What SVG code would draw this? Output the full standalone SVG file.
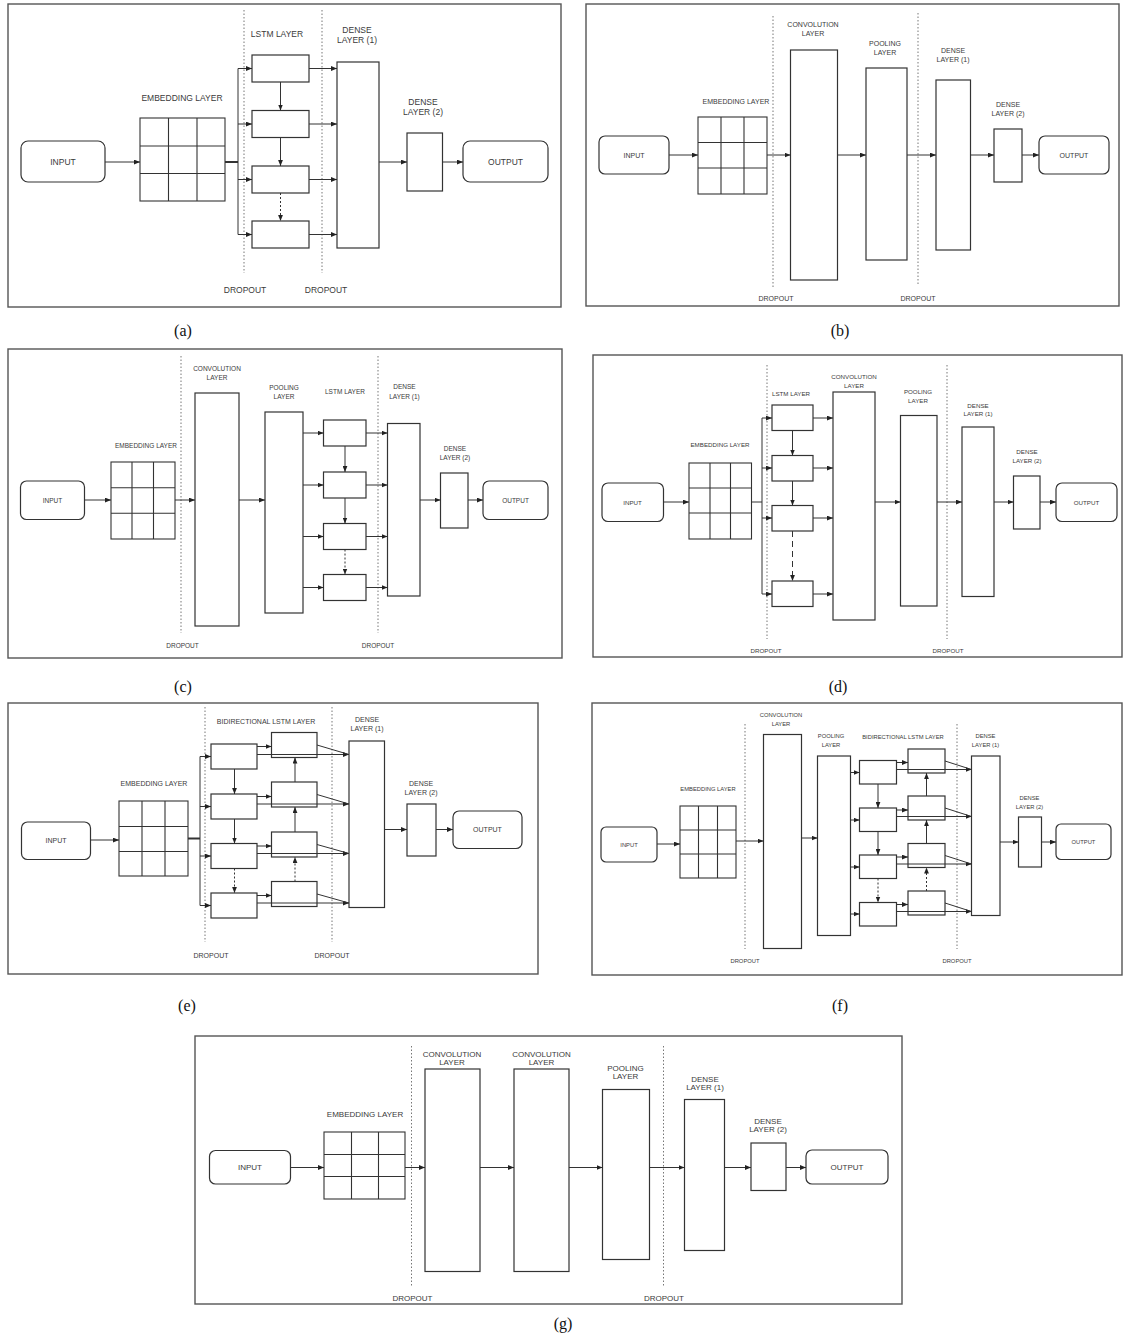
<svg xmlns="http://www.w3.org/2000/svg" width="1123" height="1339" viewBox="0 0 1123 1339">
<defs>
<marker id="ah" viewBox="0 0 10 8" refX="10" refY="4" markerWidth="6" markerHeight="5" markerUnits="userSpaceOnUse" orient="auto"><path d="M0,0 L10,4 L0,8 z" fill="#222"/></marker>
<style>
.frame{fill:#fff;stroke:#555;stroke-width:1.4}
.box{fill:#fff;stroke:#333;stroke-width:1.2}
.grid{fill:none;stroke:#333;stroke-width:1.1}
.drop{stroke:#777;stroke-width:1;stroke-dasharray:1.5 2;fill:none}
.ln{stroke:#333;stroke-width:1;fill:none}
.ar{stroke:#333;stroke-width:1;fill:none;marker-end:url(#ah)}
.dot{stroke-dasharray:2 2}
.lng{stroke-dasharray:6 4}
.bus{stroke:#333;stroke-width:2;fill:none}
text{font-family:"Liberation Sans",Arial,sans-serif;fill:#3a3a3a;text-anchor:middle;dominant-baseline:central}
.ta{font-size:8.5px}.tb{font-size:7px}.tc{font-size:6.5px}.td{font-size:6.2px}.te{font-size:7px}.tf{font-size:5.8px}.tg{font-size:8px}
.cap{font-family:"Liberation Serif","Times New Roman",serif;font-size:16px;fill:#111}
</style>
</defs>
<rect width="1123" height="1339" fill="#fff"/>

<!-- ================= PANEL A ================= -->
<g id="panel-a">
<rect class="frame" x="8" y="4" width="553" height="303"/>
<line class="drop" x1="244" y1="10" x2="244" y2="273"/>
<line class="drop" x1="322" y1="10" x2="322" y2="273"/>
<text class="ta" x="245" y="290">DROPOUT</text>
<text class="ta" x="326" y="290">DROPOUT</text>
<g id="a-input"><rect class="box" x="21" y="141" width="84" height="41" rx="7"/><text class="ta" x="63" y="162">INPUT</text></g>
<g id="a-embedding"><text class="ta" x="182" y="98">EMBEDDING LAYER</text><rect class="grid" x="140" y="118" width="85" height="83"/><path class="grid" d="M168.5,118V201M197,118V201M140,146H225M140,173.5H225"/></g>
<g id="a-lstm"><text class="ta" x="277" y="34">LSTM LAYER</text>
<rect class="box" x="252" y="55" width="57" height="27"/><rect class="box" x="252" y="110.5" width="57" height="27"/><rect class="box" x="252" y="166" width="57" height="27"/><rect class="box" x="252" y="221" width="57" height="27"/></g>
<g id="a-dense1"><text class="ta" x="357" y="30">DENSE</text><text class="ta" x="357" y="40">LAYER (1)</text><rect class="box" x="337" y="62" width="42" height="186"/></g>
<g id="a-dense2"><text class="ta" x="423" y="102">DENSE</text><text class="ta" x="423" y="112">LAYER (2)</text><rect class="box" x="407" y="133" width="35.5" height="58"/></g>
<g id="a-output"><rect class="box" x="463" y="141" width="85" height="41" rx="7"/><text class="ta" x="505.5" y="162">OUTPUT</text></g>
<g id="a-connectors">
<line class="ar" x1="105" y1="162" x2="140" y2="162"/>
<line class="bus" x1="225" y1="162" x2="238" y2="162"/>
<line class="ln" x1="238" y1="68.5" x2="238" y2="234.5"/>
<line class="ar" x1="238" y1="68.5" x2="252" y2="68.5"/><line class="ar" x1="238" y1="124" x2="252" y2="124"/><line class="ar" x1="238" y1="179.5" x2="252" y2="179.5"/><line class="ar" x1="238" y1="234.5" x2="252" y2="234.5"/>
<line class="ar" x1="280.5" y1="82" x2="280.5" y2="110.5"/><line class="ar" x1="280.5" y1="137.5" x2="280.5" y2="166"/><line class="ar dot" x1="280.5" y1="193" x2="280.5" y2="221"/>
<line class="ar" x1="309" y1="68.5" x2="337" y2="68.5"/><line class="ar" x1="309" y1="124" x2="337" y2="124"/><line class="ar" x1="309" y1="179.5" x2="337" y2="179.5"/><line class="ar" x1="309" y1="234.5" x2="337" y2="234.5"/>
<line class="ar" x1="379" y1="162" x2="407" y2="162"/>
<line class="ar" x1="442.5" y1="162" x2="463" y2="162"/>
</g>
</g>

<!-- ================= PANEL B ================= -->
<g id="panel-b">
<rect class="frame" x="586" y="4" width="533" height="302"/>
<line class="drop" x1="773" y1="16" x2="773" y2="288"/>
<line class="drop" x1="918" y1="13" x2="918" y2="285"/>
<text class="tb" x="776" y="298">DROPOUT</text>
<text class="tb" x="918" y="298">DROPOUT</text>
<g id="b-input"><rect class="box" x="599" y="136" width="70" height="38" rx="6"/><text class="tb" x="634" y="155">INPUT</text></g>
<g id="b-embedding"><text class="tb" x="736" y="101">EMBEDDING LAYER</text><rect class="grid" x="698" y="117" width="69" height="77"/><path class="grid" d="M721,117V194M744,117V194M698,142.5H767M698,168H767"/></g>
<g id="b-conv"><text class="tb" x="813" y="24">CONVOLUTION</text><text class="tb" x="813" y="33">LAYER</text><rect class="box" x="790.5" y="50" width="47" height="230"/></g>
<g id="b-pool"><text class="tb" x="885" y="43">POOLING</text><text class="tb" x="885" y="52">LAYER</text><rect class="box" x="866" y="68" width="41" height="192"/></g>
<g id="b-dense1"><text class="tb" x="953" y="50">DENSE</text><text class="tb" x="953" y="59">LAYER (1)</text><rect class="box" x="936" y="80" width="34.5" height="170"/></g>
<g id="b-dense2"><text class="tb" x="1008" y="104">DENSE</text><text class="tb" x="1008" y="113">LAYER (2)</text><rect class="box" x="994" y="129" width="28" height="53"/></g>
<g id="b-output"><rect class="box" x="1039" y="136" width="70" height="38" rx="6"/><text class="tb" x="1074" y="155">OUTPUT</text></g>
<g id="b-connectors">
<line class="ar" x1="669" y1="155" x2="698" y2="155"/>
<line class="ar" x1="767" y1="155" x2="790.5" y2="155"/>
<line class="ar" x1="837.5" y1="155" x2="866" y2="155"/>
<line class="ar" x1="907" y1="155" x2="936" y2="155"/>
<line class="ar" x1="970.5" y1="155" x2="994" y2="155"/>
<line class="ar" x1="1022" y1="155" x2="1039" y2="155"/>
</g>
</g>

<!-- ================= PANEL C ================= -->
<g id="panel-c">
<rect class="frame" x="8" y="349" width="554" height="309"/>
<line class="drop" x1="181" y1="356" x2="181" y2="633"/>
<line class="drop" x1="378" y1="356" x2="378" y2="633"/>
<text class="tc" x="182.5" y="645">DROPOUT</text>
<text class="tc" x="378" y="645">DROPOUT</text>
<g id="c-input"><rect class="box" x="20.5" y="481" width="64" height="38.5" rx="6"/><text class="tc" x="52.5" y="500">INPUT</text></g>
<g id="c-embedding"><text class="tc" x="146" y="445">EMBEDDING LAYER</text><rect class="grid" x="111" y="462" width="64" height="77"/><path class="grid" d="M132,462V539M153.5,462V539M111,487.7H175M111,513.3H175"/></g>
<g id="c-conv"><text class="tc" x="217" y="368">CONVOLUTION</text><text class="tc" x="217" y="377">LAYER</text><rect class="box" x="195" y="393" width="44" height="233"/></g>
<g id="c-pool"><text class="tc" x="284" y="387">POOLING</text><text class="tc" x="284" y="396">LAYER</text><rect class="box" x="265" y="412" width="38" height="201"/></g>
<g id="c-lstm"><text class="tc" x="345" y="391">LSTM LAYER</text>
<rect class="box" x="323.5" y="420" width="42.5" height="26"/><rect class="box" x="323.5" y="472" width="42.5" height="26"/><rect class="box" x="323.5" y="523.5" width="42.5" height="26"/><rect class="box" x="323.5" y="574.5" width="42.5" height="26"/></g>
<g id="c-dense1"><text class="tc" x="404.5" y="386">DENSE</text><text class="tc" x="404.5" y="396">LAYER (1)</text><rect class="box" x="387.5" y="423.5" width="32.5" height="172.5"/></g>
<g id="c-dense2"><text class="tc" x="455" y="448">DENSE</text><text class="tc" x="455" y="457">LAYER (2)</text><rect class="box" x="440.5" y="473" width="27.5" height="55"/></g>
<g id="c-output"><rect class="box" x="483" y="481" width="65" height="38.5" rx="6"/><text class="tc" x="515.5" y="500">OUTPUT</text></g>
<g id="c-connectors">
<line class="ar" x1="84.5" y1="500" x2="111" y2="500"/>
<line class="ar" x1="175" y1="500" x2="195" y2="500"/>
<line class="ar" x1="239" y1="500" x2="265" y2="500"/>
<line class="ar" x1="303" y1="433" x2="323.5" y2="433"/><line class="ar" x1="303" y1="485" x2="323.5" y2="485"/><line class="ar" x1="303" y1="536.5" x2="323.5" y2="536.5"/><line class="ar" x1="303" y1="587.5" x2="323.5" y2="587.5"/>
<line class="ar" x1="345" y1="446" x2="345" y2="472"/><line class="ar" x1="345" y1="498" x2="345" y2="523.5"/><line class="ar dot" x1="345" y1="549.5" x2="345" y2="574.5"/>
<line class="ar" x1="366" y1="433" x2="387.5" y2="433"/><line class="ar" x1="366" y1="485" x2="387.5" y2="485"/><line class="ar" x1="366" y1="536.5" x2="387.5" y2="536.5"/><line class="ar" x1="366" y1="587.5" x2="387.5" y2="587.5"/>
<line class="ar" x1="420" y1="500" x2="440.5" y2="500"/>
<line class="ar" x1="468" y1="500" x2="483" y2="500"/>
</g>
</g>

<!-- ================= PANEL D ================= -->
<g id="panel-d">
<rect class="frame" x="593" y="355" width="529" height="302"/>
<line class="drop" x1="767" y1="365" x2="767" y2="639"/>
<line class="drop" x1="947" y1="365" x2="947" y2="639"/>
<text class="td" x="766" y="650">DROPOUT</text>
<text class="td" x="948" y="650">DROPOUT</text>
<g id="d-input"><rect class="box" x="602" y="483" width="61.5" height="38.5" rx="6"/><text class="td" x="632.5" y="502">INPUT</text></g>
<g id="d-embedding"><text class="td" x="720" y="444">EMBEDDING LAYER</text><rect class="grid" x="689" y="463" width="62.5" height="76"/><path class="grid" d="M710,463V539M730.5,463V539M689,488H751.5M689,513H751.5"/></g>
<g id="d-lstm"><text class="td" x="791" y="393">LSTM LAYER</text>
<rect class="box" x="772" y="405" width="41" height="25.5"/><rect class="box" x="772" y="455.5" width="41" height="25.5"/><rect class="box" x="772" y="505.5" width="41" height="25.5"/><rect class="box" x="772" y="581" width="41" height="25.5"/></g>
<g id="d-conv"><text class="td" x="854" y="376">CONVOLUTION</text><text class="td" x="854" y="385">LAYER</text><rect class="box" x="833" y="392" width="42" height="228"/></g>
<g id="d-pool"><text class="td" x="918" y="391">POOLING</text><text class="td" x="918" y="400">LAYER</text><rect class="box" x="900.5" y="415.5" width="36.5" height="190.5"/></g>
<g id="d-dense1"><text class="td" x="978" y="405">DENSE</text><text class="td" x="978" y="413.5">LAYER (1)</text><rect class="box" x="962" y="427" width="32" height="169.5"/></g>
<g id="d-dense2"><text class="td" x="1027" y="451">DENSE</text><text class="td" x="1027" y="460">LAYER (2)</text><rect class="box" x="1013.5" y="476" width="26.5" height="53"/></g>
<g id="d-output"><rect class="box" x="1056" y="483" width="61" height="38.5" rx="6"/><text class="td" x="1086.5" y="502">OUTPUT</text></g>
<g id="d-connectors">
<line class="ar" x1="663.5" y1="502" x2="689" y2="502"/>
<line class="ln" x1="751.5" y1="502" x2="762" y2="502"/>
<line class="ln" x1="762" y1="418" x2="762" y2="594"/>
<line class="ar" x1="762" y1="418" x2="772" y2="418"/><line class="ar" x1="762" y1="468" x2="772" y2="468"/><line class="ar" x1="762" y1="518" x2="772" y2="518"/><line class="ar" x1="762" y1="594" x2="772" y2="594"/>
<line class="ar" x1="792.5" y1="430.5" x2="792.5" y2="455.5"/><line class="ar" x1="792.5" y1="481" x2="792.5" y2="505.5"/><line class="ar lng" x1="792.5" y1="531" x2="792.5" y2="581"/>
<line class="ar" x1="813" y1="418" x2="833" y2="418"/><line class="ar" x1="813" y1="468" x2="833" y2="468"/><line class="ar" x1="813" y1="518" x2="833" y2="518"/><line class="ar" x1="813" y1="594" x2="833" y2="594"/>
<line class="ar" x1="875" y1="502" x2="900.5" y2="502"/>
<line class="ar" x1="937" y1="502" x2="962" y2="502"/>
<line class="ar" x1="994" y1="502" x2="1013.5" y2="502"/>
<line class="ar" x1="1040" y1="502" x2="1056" y2="502"/>
</g>
</g>

<!-- ================= PANEL E ================= -->
<g id="panel-e">
<rect class="frame" x="8" y="703" width="530" height="271"/>
<line class="drop" x1="205" y1="707" x2="205" y2="942"/>
<line class="drop" x1="332" y1="707" x2="332" y2="942"/>
<text class="te" x="211" y="955">DROPOUT</text>
<text class="te" x="332" y="955">DROPOUT</text>
<g id="e-input"><rect class="box" x="21.5" y="822" width="69" height="37.5" rx="6"/><text class="te" x="56" y="840">INPUT</text></g>
<g id="e-embedding"><text class="te" x="154" y="783">EMBEDDING LAYER</text><rect class="grid" x="119" y="801" width="69" height="75"/><path class="grid" d="M142,801V876M165,801V876M119,826.5H188M119,851.5H188"/></g>
<g id="e-bilstm"><text class="te" x="266" y="721">BIDIRECTIONAL LSTM LAYER</text>
<rect class="box" x="211" y="744" width="46" height="25"/><rect class="box" x="211" y="794" width="46" height="25"/><rect class="box" x="211" y="843.5" width="46" height="25"/><rect class="box" x="211" y="893" width="46" height="25"/>
<rect class="box" x="271.5" y="732.5" width="45.5" height="25"/><rect class="box" x="271.5" y="782" width="45.5" height="25"/><rect class="box" x="271.5" y="832" width="45.5" height="25"/><rect class="box" x="271.5" y="881.5" width="45.5" height="25"/></g>
<g id="e-dense1"><text class="te" x="367" y="719">DENSE</text><text class="te" x="367" y="728">LAYER (1)</text><rect class="box" x="349" y="741" width="35.5" height="166.5"/></g>
<g id="e-dense2"><text class="te" x="421" y="783">DENSE</text><text class="te" x="421" y="792">LAYER (2)</text><rect class="box" x="407" y="804" width="29" height="52"/></g>
<g id="e-output"><rect class="box" x="453" y="811" width="69" height="37.5" rx="6"/><text class="te" x="487.5" y="829.5">OUTPUT</text></g>
<g id="e-connectors">
<line class="ar" x1="90.5" y1="840" x2="119" y2="840"/>
<line class="bus" x1="188" y1="838.5" x2="200" y2="838.5"/>
<line class="ln" x1="200" y1="756.5" x2="200" y2="905.5"/>
<line class="ar" x1="200" y1="756.5" x2="211" y2="756.5"/><line class="ar" x1="200" y1="806.5" x2="211" y2="806.5"/><line class="ar" x1="200" y1="856" x2="211" y2="856"/><line class="ar" x1="200" y1="905.5" x2="211" y2="905.5"/>
<line class="ar" x1="234.5" y1="769" x2="234.5" y2="794"/><line class="ar" x1="234.5" y1="819" x2="234.5" y2="843.5"/><line class="ar dot" x1="234.5" y1="868.5" x2="234.5" y2="893"/>
<line class="ar dot" x1="295" y1="881.5" x2="295" y2="857"/><line class="ar" x1="295" y1="832" x2="295" y2="807"/><line class="ar" x1="295" y1="782" x2="295" y2="757.5"/>
<line class="ar" x1="257" y1="746.5" x2="271.5" y2="746.5"/><line class="ar" x1="257" y1="796.5" x2="271.5" y2="796.5"/><line class="ar" x1="257" y1="846" x2="271.5" y2="846"/><line class="ar" x1="257" y1="895.5" x2="271.5" y2="895.5"/>
<line class="ar" x1="257" y1="754.5" x2="349" y2="754.5"/><line class="ar" x1="257" y1="804" x2="349" y2="804"/><line class="ar" x1="257" y1="853.5" x2="349" y2="853.5"/><line class="ar" x1="257" y1="903" x2="349" y2="903"/>
<line class="ln" x1="317" y1="745" x2="349" y2="754.5"/><line class="ln" x1="317" y1="794.5" x2="349" y2="804"/><line class="ln" x1="317" y1="844.5" x2="349" y2="853.5"/><line class="ln" x1="317" y1="894" x2="349" y2="903"/>
<line class="ar" x1="384.5" y1="829.5" x2="407" y2="829.5"/>
<line class="ar" x1="436" y1="829.5" x2="453" y2="829.5"/>
</g>
</g>

<!-- ================= PANEL F ================= -->
<g id="panel-f">
<rect class="frame" x="592" y="703" width="530" height="272"/>
<line class="drop" x1="745" y1="724" x2="745" y2="949"/>
<line class="drop" x1="957" y1="724" x2="957" y2="949"/>
<text class="tf" x="745" y="961">DROPOUT</text>
<text class="tf" x="957" y="961">DROPOUT</text>
<g id="f-input"><rect class="box" x="601" y="827" width="56" height="35" rx="5"/><text class="tf" x="629" y="844.5">INPUT</text></g>
<g id="f-embedding"><text class="tf" x="708" y="789">EMBEDDING LAYER</text><rect class="grid" x="680" y="806" width="56" height="72"/><path class="grid" d="M698.5,806V878M717.5,806V878M680,830H736M680,854H736"/></g>
<g id="f-conv"><text class="tf" x="781" y="715">CONVOLUTION</text><text class="tf" x="781" y="724">LAYER</text><rect class="box" x="763.5" y="734.5" width="38" height="214"/></g>
<g id="f-pool"><text class="tf" x="831" y="736">POOLING</text><text class="tf" x="831" y="744.5">LAYER</text><rect class="box" x="817.5" y="756" width="33" height="179.5"/></g>
<g id="f-bilstm"><text class="tf" x="903" y="737">BIDIRECTIONAL LSTM LAYER</text>
<rect class="box" x="859.5" y="760.5" width="37" height="23.5"/><rect class="box" x="859.5" y="808" width="37" height="23.5"/><rect class="box" x="859.5" y="855" width="37" height="23.5"/><rect class="box" x="859.5" y="902.5" width="37" height="23.5"/>
<rect class="box" x="908" y="749" width="37" height="24"/><rect class="box" x="908" y="796" width="37" height="24"/><rect class="box" x="908" y="843.5" width="37" height="24"/><rect class="box" x="908" y="891" width="37" height="24"/></g>
<g id="f-dense1"><text class="tf" x="985.5" y="736">DENSE</text><text class="tf" x="985.5" y="744.5">LAYER (1)</text><rect class="box" x="971.5" y="756" width="28.5" height="159.5"/></g>
<g id="f-dense2"><text class="tf" x="1029.5" y="798">DENSE</text><text class="tf" x="1029.5" y="806.5">LAYER (2)</text><rect class="box" x="1018.5" y="817" width="23" height="50"/></g>
<g id="f-output"><rect class="box" x="1056" y="824" width="55" height="35.5" rx="5"/><text class="tf" x="1083.5" y="842">OUTPUT</text></g>
<g id="f-connectors">
<line class="ar" x1="657" y1="844" x2="680" y2="844"/>
<line class="ar" x1="736" y1="841" x2="763.5" y2="841"/>
<line class="ar" x1="801.5" y1="838" x2="817.5" y2="838"/>
<line class="ar" x1="850.5" y1="772.5" x2="859.5" y2="772.5"/><line class="ar" x1="850.5" y1="820" x2="859.5" y2="820"/><line class="ar" x1="850.5" y1="867" x2="859.5" y2="867"/><line class="ar" x1="850.5" y1="914" x2="859.5" y2="914"/>
<line class="ar" x1="878" y1="784" x2="878" y2="808"/><line class="ar" x1="878" y1="831.5" x2="878" y2="855"/><line class="ar dot" x1="878" y1="878.5" x2="878" y2="902.5"/>
<line class="ar dot" x1="926.5" y1="891" x2="926.5" y2="867.5"/><line class="ar" x1="926.5" y1="843.5" x2="926.5" y2="820"/><line class="ar" x1="926.5" y1="796" x2="926.5" y2="773"/>
<line class="ar" x1="896.5" y1="762.5" x2="908" y2="762.5"/><line class="ar" x1="896.5" y1="810" x2="908" y2="810"/><line class="ar" x1="896.5" y1="857" x2="908" y2="857"/><line class="ar" x1="896.5" y1="904.5" x2="908" y2="904.5"/>
<line class="ar" x1="896.5" y1="769.5" x2="971.5" y2="769.5"/><line class="ar" x1="896.5" y1="816.5" x2="971.5" y2="816.5"/><line class="ar" x1="896.5" y1="864" x2="971.5" y2="864"/><line class="ar" x1="896.5" y1="911.5" x2="971.5" y2="911.5"/>
<line class="ln" x1="945" y1="761" x2="971.5" y2="769.5"/><line class="ln" x1="945" y1="808" x2="971.5" y2="816.5"/><line class="ln" x1="945" y1="855.5" x2="971.5" y2="864"/><line class="ln" x1="945" y1="903" x2="971.5" y2="911.5"/>
<line class="ar" x1="1000" y1="842" x2="1018.5" y2="842"/>
<line class="ar" x1="1041.5" y1="842" x2="1056" y2="842"/>
</g>
</g>

<!-- ================= PANEL G ================= -->
<g id="panel-g">
<rect class="frame" x="195" y="1036" width="707" height="268"/>
<line class="drop" x1="411.5" y1="1046" x2="411.5" y2="1286"/>
<line class="drop" x1="663.5" y1="1046" x2="663.5" y2="1286"/>
<text class="tg" x="412.5" y="1298.5">DROPOUT</text>
<text class="tg" x="664" y="1298.5">DROPOUT</text>
<g id="g-input"><rect class="box" x="209.5" y="1150.5" width="81" height="33.5" rx="6"/><text class="tg" x="250" y="1167.5">INPUT</text></g>
<g id="g-embedding"><text class="tg" x="365" y="1114.5">EMBEDDING LAYER</text><rect class="grid" x="324" y="1132" width="81" height="67"/><path class="grid" d="M351.5,1132V1199M378.5,1132V1199M324,1154.5H405M324,1176.5H405"/></g>
<g id="g-conv1"><text class="tg" x="452" y="1054.5">CONVOLUTION</text><text class="tg" x="452" y="1062.5">LAYER</text><rect class="box" x="425" y="1069" width="55" height="202.5"/></g>
<g id="g-conv2"><text class="tg" x="541.5" y="1054.5">CONVOLUTION</text><text class="tg" x="541.5" y="1062.5">LAYER</text><rect class="box" x="514" y="1069" width="55" height="202.5"/></g>
<g id="g-pool"><text class="tg" x="625.5" y="1068">POOLING</text><text class="tg" x="625.5" y="1076.5">LAYER</text><rect class="box" x="602.5" y="1089.5" width="47" height="170"/></g>
<g id="g-dense1"><text class="tg" x="705" y="1079.5">DENSE</text><text class="tg" x="705" y="1087.5">LAYER (1)</text><rect class="box" x="684.5" y="1099.5" width="40" height="151"/></g>
<g id="g-dense2"><text class="tg" x="768" y="1121.5">DENSE</text><text class="tg" x="768" y="1129.5">LAYER (2)</text><rect class="box" x="751" y="1143" width="35" height="47.5"/></g>
<g id="g-output"><rect class="box" x="806" y="1150" width="82" height="34" rx="6"/><text class="tg" x="847" y="1167.5">OUTPUT</text></g>
<g id="g-connectors">
<line class="ar" x1="290.5" y1="1167.5" x2="324" y2="1167.5"/>
<line class="ar" x1="405" y1="1167.5" x2="425" y2="1167.5"/>
<line class="ar" x1="480" y1="1167.5" x2="514" y2="1167.5"/>
<line class="ar" x1="569" y1="1167.5" x2="602.5" y2="1167.5"/>
<line class="ar" x1="649.5" y1="1167.5" x2="684.5" y2="1167.5"/>
<line class="ar" x1="724.5" y1="1167.5" x2="751" y2="1167.5"/>
<line class="ar" x1="786" y1="1167.5" x2="806" y2="1167.5"/>
</g>
</g>

<!-- captions -->
<g id="captions">
<text class="cap" x="183" y="330">(a)</text>
<text class="cap" x="840" y="330">(b)</text>
<text class="cap" x="183" y="686">(c)</text>
<text class="cap" x="838" y="686">(d)</text>
<text class="cap" x="187" y="1005">(e)</text>
<text class="cap" x="840" y="1005">(f)</text>
<text class="cap" x="563" y="1323">(g)</text>
</g>
</svg>
